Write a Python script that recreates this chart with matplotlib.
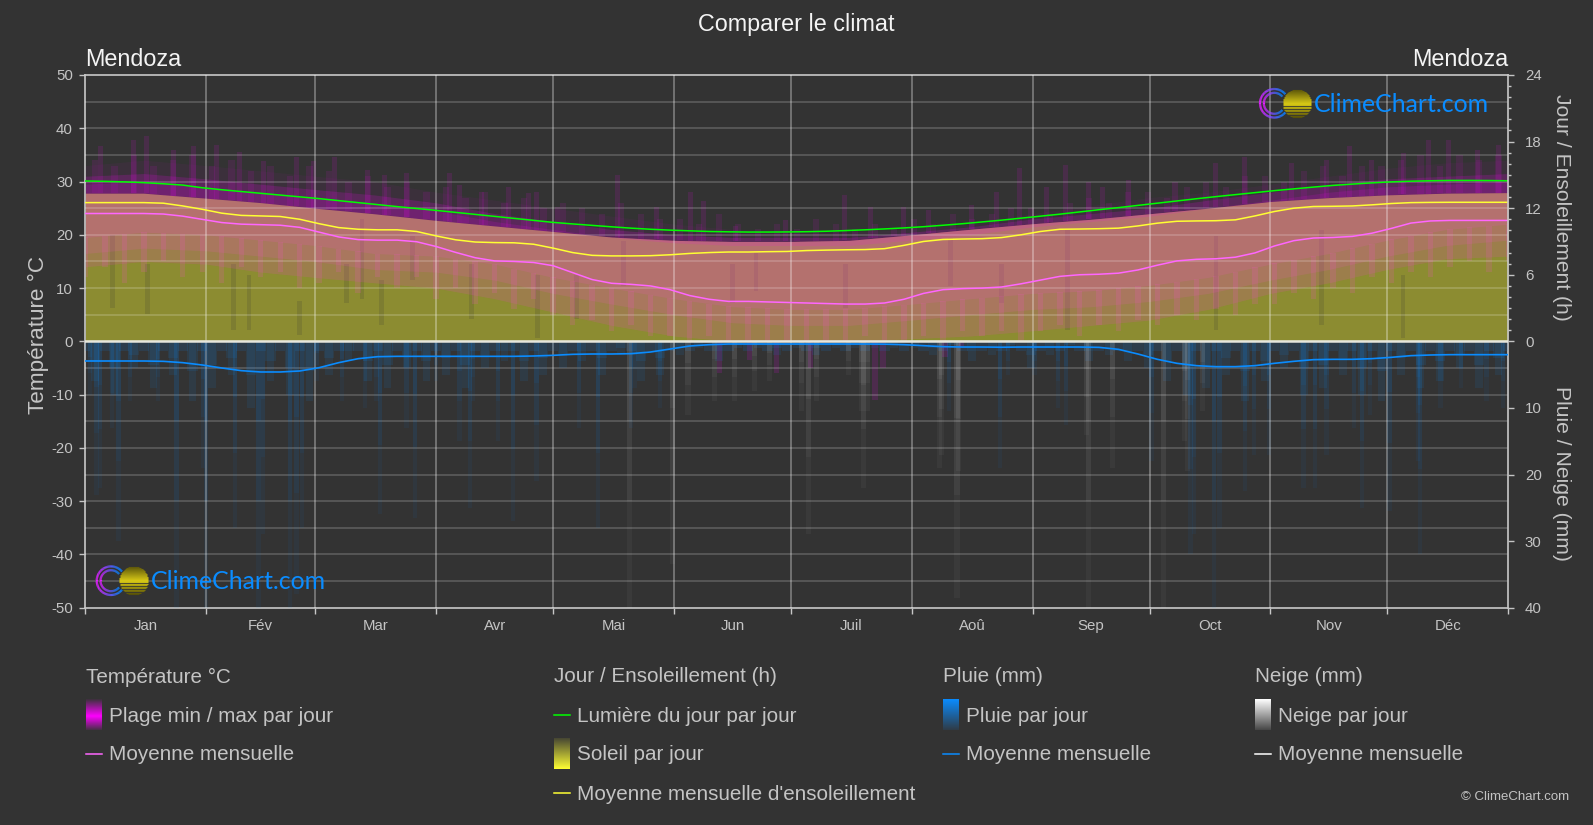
import numpy as np
import matplotlib
matplotlib.use("Agg")
import matplotlib.pyplot as plt
from matplotlib.collections import LineCollection

plt.rcParams['font.family'] = ['Liberation Sans', 'DejaVu Sans']
plt.rcParams['axes.unicode_minus'] = False

W, H = 1593, 825
BG = '#333333'
TXT = '#c4c4c4'
PINK = '#f94fd0'

months = ['Jan', 'Fév', 'Mar', 'Avr', 'Mai', 'Jun', 'Juil', 'Aoû', 'Sep', 'Oct', 'Nov', 'Déc']
month_edges = [0, 31, 59, 90, 120, 151, 181, 212, 243, 273, 304, 334, 365]

# monthly curves, read every 5 days
line_days = np.arange(0, 366, 5)
temp_mean = [24, 24, 24, 24, 23.9, 23.5, 22.9, 22.3, 22, 21.9, 21.8, 21.4, 20.5, 19.6, 19.1, 19, 19, 18.7, 17.8,
             16.7, 15.7, 15.1, 15, 14.8, 14.2, 12.9, 11.6, 10.9, 10.7, 10.4, 9.7, 8.6, 7.9, 7.5, 7.5, 7.4, 7.3,
             7.2, 7.1, 7, 7, 7.2, 7.9, 9, 9.7, 9.9, 10, 10.2, 10.8, 11.5, 12.2, 12.5, 12.6, 12.8, 13.4, 14.3,
             15.1, 15.4, 15.5, 15.8, 16.6, 17.9, 18.9, 19.4, 19.5, 19.7, 20.3, 21.2, 22.2, 22.6, 22.7, 22.7, 22.7, 22.7]
sun_mean = [12.5, 12.5, 12.5, 12.5, 12.45, 12.2, 11.9, 11.55, 11.35, 11.3, 11.25, 11.0, 10.6, 10.25, 10.1, 10.05,
            10.05, 9.9, 9.5, 9.15, 8.95, 8.9, 8.88, 8.75, 8.4, 8.0, 7.75, 7.7, 7.7, 7.72, 7.8, 7.92, 8.0, 8.05,
            8.05, 8.08, 8.1, 8.18, 8.22, 8.25, 8.27, 8.35, 8.65, 9.0, 9.18, 9.22, 9.25, 9.35, 9.6, 9.9, 10.1,
            10.12, 10.15, 10.2, 10.4, 10.65, 10.82, 10.85, 10.87, 10.95, 11.3, 11.7, 12.0, 12.15, 12.17, 12.2,
            12.3, 12.42, 12.5, 12.52, 12.53, 12.53, 12.53, 12.53]
daylight = [14.45, 14.42, 14.37, 14.3, 14.2, 14.08, 13.84, 13.66, 13.5, 13.34, 13.18, 13.02, 12.86, 12.68, 12.5,
            12.32, 12.14, 11.97, 11.8, 11.62, 11.44, 11.26, 11.08, 10.9, 10.72, 10.58, 10.45, 10.32, 10.2, 10.1,
            10.02, 9.96, 9.9, 9.87, 9.85, 9.85, 9.86, 9.88, 9.92, 9.98, 10.05, 10.13, 10.22, 10.33, 10.46, 10.6,
            10.76, 10.92, 11.1, 11.28, 11.46, 11.66, 11.86, 12.05, 12.25, 12.45, 12.65, 12.85, 13.04, 13.22, 13.4,
            13.58, 13.74, 13.9, 14.05, 14.17, 14.28, 14.37, 14.43, 14.47, 14.5, 14.5, 14.49, 14.47]
rain_mean = [2.95, 2.95, 2.95, 2.95, 3.0, 3.2, 3.55, 4.0, 4.4, 4.6, 4.6, 4.45, 3.95, 3.2, 2.6, 2.3, 2.25, 2.25, 2.25,
             2.25, 2.25, 2.25, 2.25, 2.2, 2.1, 1.95, 1.9, 1.9, 1.85, 1.6, 1.15, 0.7, 0.5, 0.4, 0.4, 0.4, 0.4, 0.4,
             0.4, 0.4, 0.4, 0.42, 0.5, 0.65, 0.8, 0.85, 0.85, 0.88, 0.85, 0.85, 0.85, 0.85, 0.9, 1.2, 1.9, 2.7,
             3.3, 3.65, 3.8, 3.8, 3.65, 3.3, 3.0, 2.75, 2.7, 2.7, 2.6, 2.4, 2.15, 2.05, 2.0, 2.0, 2.0, 2.0]
snow_mean = [0] * 13

# envelopes of the daily values, start and middle of each month
env_days = [0, 15, 31, 45, 59, 74, 90, 105, 120, 135, 151, 166, 181, 196, 212, 227, 243, 258, 273, 288, 304, 319,
            334, 349, 365]
t_peak = [33, 34, 33, 32, 31, 30, 28, 26.5, 25, 23.5, 22, 21, 20.5, 20.5, 21, 22, 24, 25.5, 27, 28, 29.5, 31, 32.5,
          33.5, 34]
t_high = [31, 31.5, 30.5, 29.5, 28.5, 27.5, 26, 24, 22.5, 21, 20, 19.5, 19.5, 19.5, 20.5, 21.5, 23, 24, 25, 26.5, 28,
          29.5, 30.5, 31, 31.5]
t_low = [16.5, 17.5, 17, 16, 15, 13.5, 13, 11.5, 9, 7, 5, 3.5, 3, 3, 4, 5, 6, 6.5, 7.5, 9, 11.5, 13.5, 16, 18, 19]
t_floor = [14, 15, 14.5, 13, 12, 11, 10, 8, 5.5, 3, 1, 0, 0, 0, 0.5, 1, 2, 3, 4, 6, 9, 11, 13.5, 15.5, 16]
sun_top = [13.35, 13.35, 12.9, 12.5, 12, 11.5, 10.9, 10.4, 9.9, 9.4, 9.1, 9, 9, 9.1, 9.6, 10.1, 10.6, 11, 11.5, 12,
           12.6, 12.95, 13.2, 13.35, 13.4]

# 5-day texture of the daily bars
t_low_jag = [12, 14, 11, 13, 15, 12, 13, 11, 14, 12, 13, 10, 11, 13, 9, 12, 10, 12, 8, 10, 7, 9, 6, 8, 5, 3, 4, 2,
             3, 1, 1, 0, 1, 0, 0, 0, 0, 0, 0, 0, 1, 0, 0, 1, 0, 2, 1, 2, 0, 2, 3, 1, 3, 2, 4, 3, 5, 4, 6, 5, 7, 7, 9,
             8, 10, 9, 12, 11, 13, 12, 14, 15, 13, 15]
hot_tops_2 = [34, 33, 35, 33, 34, 35, 33, 34, 32, 33, 31, 33, 32, 30, 31, 29, 30, 28, 29, 27, 28, 26, 27, 25, 26, 25,
              24, 26, 24, 23, 23, 22, 24, 22, 21, 22, 21, 23, 22, 21, 22, 21, 23, 22, 24, 23, 24, 25, 25, 24, 26, 27,
              26, 28, 28, 27, 29, 30, 29, 31, 31, 30, 32, 33, 31, 33, 33, 34, 35, 33, 35, 34, 35]
rain_short = [6, 8, 4, 7, 5, 9, 7, 5, 10, 6, 8, 9, 5, 3, 6, 7, 4, 6, 5, 7, 4, 3, 6, 5, 4, 3, 5, 2, 6, 5, 2, 1, 3, 1,
              1, 2, 1, 2, 1, 1, 1, 1, 1, 2, 1, 3, 2, 1, 4, 2, 1, 3, 2, 3, 4, 6, 8, 7, 5, 9, 6, 4, 8, 7, 5, 8, 9, 5, 7,
              6, 4, 7, 5]

# days that stand out
hot_days = [3.8, 12.3, 15.7, 22.6, 27.7, 33.7, 39.6, 45.7, 54.2, 58.5, 64, 72.5, 76.8, 82.4, 93.5, 96, 101.6, 108.5,
            113.6, 115.7, 121, 136.5, 146.6, 155.3, 158.5, 166.8, 179.6, 194.7, 201.5, 209.8, 216.2, 227.2, 233.7,
            239.6, 246.5, 251.5, 257.4, 261, 267.5, 279.5, 290, 297.4, 309.3, 318.3, 324.3, 329.9, 338, 344.5,
            349.7, 357, 362.5]
hot_tops = [36.6, 37.8, 38.6, 36, 36.6, 36.9, 35.6, 33.8, 34.7, 33.8, 34.6, 32.2, 31.3, 31.6, 31.6, 29.4, 28.1, 29,
            27.8, 28, 25.3, 31.3, 25.3, 28.1, 26.3, 21.6, 22.8, 27.5, 25.3, 25.3, 24.7, 25.6, 28.1, 32.5, 29, 33.1,
            30, 29, 30.3, 30, 33.4, 34.7, 33.4, 34, 36.6, 34, 35.3, 37.8, 37.8, 36, 36.9]
cold_days = [162.7, 170.4, 177.3, 186, 202.5, 204.6, 220.5, 224.7]
cold_lows = [-6, -3.5, -6, -5, -11, -5, -3, -1]
cloud_days = [7, 16, 38, 42, 55, 67, 71, 76, 84, 99, 116, 126, 138, 166, 172, 195, 222, 235, 252, 290, 317, 338]
cloud_tops = [9.6, 7, 7, 6, 3.6, 7, 11, 5.5, 9.5, 7, 6, 6, 9, 7, 8, 7, 9.3, 7, 10, 9.5, 10, 6]
cloud_bottoms = [3, 2.5, 1, 1, 0.6, 3.5, 3.8, 1.5, 5.5, 2, 0.3, 2, 5, 3.5, 4.5, 3, 5, 3.5, 1, 1, 1.5, 0.3]
rain_days = [1.2, 2.9, 3.7, 6.8, 8.5, 11.5, 18.7, 23.4, 30.2, 31, 38.4, 44.4, 45.6, 52.5, 54.2, 55.5, 59.3, 65.8,
             71.7, 74.7, 75.5, 82.4, 84.5, 90, 96, 98.6, 99.5, 105.9, 109.7, 115.7, 126.7, 131.5, 140, 140.9, 147.4,
             221.6, 234.6, 236.7, 243.5, 249.5, 251.5, 273.5, 283.5, 284.4, 289.6, 290.9, 297.5, 299.7, 303.6,
             312.5, 315.5, 318.4, 325.4, 327.4, 329.5, 334.5, 341.9, 342.3, 347.6, 352.9, 359.4, 363.7]
rain_depths = [8, 23, 22, 13, 30, 9, 9, 40, 19, 40, 28, 40, 29, 40, 38, 28, 6, 9, 10, 9, 26, 13, 26.5, 6, 15, 25, 9,
               15, 27, 21, 13, 28, 13, 7, 10, 10.5, 19, 5, 5, 10, 12.5, 18, 32, 29, 40, 28, 22.5, 17, 17, 22, 22, 17,
               13, 25, 11, 25.5, 18, 32, 10, 7, 9, 10]
snow_days = [139.7, 150.6, 154.6, 161.5, 166.6, 171.7, 175.6, 183.7, 185.6, 187.5, 195.7, 199, 199.7, 200.5, 219,
             219.6, 223.6, 224, 256.9, 257.3, 263.4, 276.5, 282, 282.6, 286.5]
snow_depths = [40, 33.5, 11, 9, 9, 7.5, 6, 10.5, 29, 9, 5, 10.5, 22, 10.5, 19, 17, 38.5, 19.5, 14, 40, 19, 40, 15,
               19.5, 10.5]

fig = plt.figure(figsize=(W / 100, H / 100), dpi=100, facecolor=BG)
rect = [85.3 / W, 1 - 607.7 / H, (1508.3 - 85.3) / W, (607.7 - 75) / H]


def make_axes(z, ylim):
    a = fig.add_axes(rect, zorder=z)
    a.set_xlim(0, 365)
    a.set_ylim(*ylim)
    a.patch.set_visible(False)
    a.set_xticks([])
    a.set_yticks([])
    for s in a.spines.values():
        s.set_visible(False)
    return a


ax_sunfill = make_axes(1, (-24, 24))
ax = make_axes(2, (-50, 50))
ax_sun = make_axes(3, (-24, 24))
ax_rain = make_axes(4, (40, -40))

# sunshine
ax_sunfill.fill_between(env_days, 0, sun_top, color='#ffff30', alpha=0.44, lw=0)
ax_sunfill.bar(cloud_days, np.array(cloud_tops) - np.array(cloud_bottoms), bottom=cloud_bottoms, width=1.2,
               color='#333333', alpha=0.16, lw=0)

# temperature range, pink where it lies on the sun and purple above it
sun_top_c = np.array(sun_top) * 50 / 24
ax.fill_between(env_days, t_floor, t_peak, color='#ff00ff', alpha=0.045, lw=0)
ax.fill_between(env_days, t_floor, sun_top_c, color=PINK, alpha=0.12, lw=0)
ax.fill_between(env_days, t_low, sun_top_c, color=PINK, alpha=0.15, lw=0)
ax.fill_between(env_days, np.array(t_low) + 3, sun_top_c, color=PINK, alpha=0.15, lw=0)
ax.fill_between(env_days, sun_top_c, t_high, color='#ff00ff', alpha=0.16, lw=0)
ax.fill_between(env_days, sun_top_c, np.array(t_high) - 1.5, color='#ff00ff', alpha=0.13, lw=0)
jag_bottom = np.array(t_low_jag, dtype=float)
jag_top = np.interp(line_days, env_days, t_low) + 3
ax.bar(line_days, jag_top - jag_bottom, bottom=jag_bottom, width=1.4, color=PINK, alpha=0.17, lw=0)
hot_base = np.interp(hot_days, env_days, sun_top_c)
ax.bar(hot_days, np.array(hot_tops) - hot_base, bottom=hot_base, width=1.3, color='#ff00ff', alpha=0.11, lw=0)
hot_days_2 = np.arange(2.5, 365, 5)
hot_base_2 = np.interp(hot_days_2, env_days, sun_top_c)
ax.bar(hot_days_2, np.array(hot_tops_2) - hot_base_2, bottom=hot_base_2, width=1.6, color='#ff00ff', alpha=0.09, lw=0)
ax.bar(cold_days, cold_lows, width=1.4, color='#ff00ff', alpha=0.13, lw=0)

# rain and snow, each bar fades away from the zero line
ax_rain.bar(hot_days_2, rain_short, width=2, color='#0a8cff', alpha=0.09, lw=0)
ax_rain.bar(hot_days_2, np.array(rain_short) * 0.5, width=2.6, color='#0a8cff', alpha=0.1, lw=0)
ax_rain.bar(line_days, 1.5, width=2.6, color='#0a8cff', alpha=0.12, lw=0)
for frac, alpha in [(1.0, 0.055), (0.6, 0.055), (0.3, 0.07)]:
    ax_rain.bar(rain_days, np.array(rain_depths) * frac, width=1.1, color='#0a8cff', alpha=alpha, lw=0)
    ax_rain.bar(snow_days, np.array(snow_depths) * frac, width=1.3, color='#ffffff', alpha=alpha * 0.7, lw=0)

# grid
for v in range(-45, 50, 5):
    ax.axhline(v, color='#ffffff', alpha=0.2, lw=1.2, zorder=5)
for d in month_edges[1:-1]:
    ax.axvline(d, color='#ffffff', alpha=0.36, lw=1.2, zorder=5)

# curves
ax.plot(line_days, temp_mean, color='#ff66ff', lw=1.1, zorder=6)
ax_sun.plot(line_days, daylight, color='#00ff00', lw=1.1)
ax_sun.plot(line_days, sun_mean, color='#ffff33', lw=1.1)
ax_rain.plot(line_days, rain_mean, color='#0a8cff', lw=1.2, zorder=6)
ax_rain.plot(month_edges, snow_mean, color='#e6e6dc', lw=1.8, zorder=5)

# left axis
for k in ('left', 'top', 'bottom'):
    ax.spines[k].set_visible(True)
    ax.spines[k].set_color('#c8c8c8')
    ax.spines[k].set_linewidth(1.2)
ax.set_yticks(range(-50, 51, 10))
ax.tick_params(axis='y', colors=TXT, labelsize=10.8, length=4, width=1, pad=5)
ax.set_xticks(month_edges)
ax.set_xticklabels([])
ax.tick_params(axis='x', colors='#c8c8c8', length=4, width=1)
ax.set_xticks([(a + b) / 2 for a, b in zip(month_edges[:-1], month_edges[1:])], minor=True)
ax.set_xticklabels(months, minor=True)
ax.tick_params(axis='x', which='minor', length=0, labelsize=10.8, labelcolor=TXT, pad=8)

# right axes
ax_sun.spines['right'].set_visible(True)
ax_sun.spines['right'].set_color('#c8c8c8')
ax_sun.spines['right'].set_linewidth(1.2)
ax_sun.yaxis.tick_right()
ax_sun.set_yticks([0, 6, 12, 18, 24])
ax_sun.set_yticks(range(1, 24), minor=True)
ax_sun.tick_params(axis='y', which='major', colors=TXT, labelsize=10.8, length=4, width=1, pad=8)
ax_sun.tick_params(axis='y', which='minor', colors='#c8c8c8', length=2.5, width=1)
ax_rain.yaxis.tick_right()
ax_rain.set_yticks([10, 20, 30, 40])
ax_rain.tick_params(axis='y', colors=TXT, labelsize=10.8, length=4, width=1, pad=8)

# everything outside the plot, in pixels
ov = fig.add_axes([0, 0, 1, 1], zorder=10)
ov.set_xlim(0, W)
ov.set_ylim(H, 0)
ov.axis('off')


def txt(x, y, s, size=14.85, color=TXT, **kw):
    kw.setdefault('va', 'center')
    ov.text(x, y, s, fontsize=size, color=color, **kw)


txt(796, 24, 'Comparer le climat', size=16.8, color='#f4f4f4', ha='center')
txt(85.5, 60, 'Mendoza', size=16.8, color='#f4f4f4')
txt(1508, 60, 'Mendoza', size=16.8, color='#f4f4f4', ha='right')
txt(38, 335, 'Température °C', size=16.2, ha='center', rotation=90)
txt(1561, 207, 'Jour / Ensoleillement (h)', size=15.1, ha='center', rotation=270)
txt(1561, 473, 'Pluie / Neige (mm)', size=15.2, ha='center', rotation=270)
txt(1569, 797, '© ClimeChart.com', size=9.5, ha='right')


def gradient_swatch(x, y0, y1, stops):
    # stops are (position, r, g, b, a) from top to bottom
    pos = np.linspace(0, 1, 64)
    stops = np.array(stops, dtype=float)
    img = np.stack([np.interp(pos, stops[:, 0], stops[:, i]) for i in range(1, 5)], axis=1)[:, None, :]
    ov.imshow(img, extent=(x, x + 16, y1, y0), aspect='auto', zorder=2, interpolation='bilinear')


cols = [85.5, 553.5, 943, 1255]
txt(cols[0], 677, 'Température °C')
gradient_swatch(cols[0], 699, 730, [(0, 1, 0, 1, 0.05), (0.55, 1, 0, 1, 1), (1, 1, 0, 1, 0.1)])
txt(cols[0] + 23.5, 716, 'Plage min / max par jour')
ov.plot([cols[0], cols[0] + 16], [754, 754], color='#ff66ff', lw=1.1)
txt(cols[0] + 23.5, 755, 'Moyenne mensuelle')

txt(cols[1], 677, 'Jour / Ensoleillement (h)')
ov.plot([cols[1], cols[1] + 16], [715, 715], color='#00ff00', lw=1.1)
txt(cols[1] + 23.5, 716, 'Lumière du jour par jour')
gradient_swatch(cols[1], 738, 769, [(0, 1, 1, 0.2, 0.1), (1, 1, 1, 0.2, 1)])
txt(cols[1] + 23.5, 755, 'Soleil par jour')
ov.plot([cols[1], cols[1] + 16], [793, 793], color='#ffff33', lw=1.1)
txt(cols[1] + 23.5, 794, "Moyenne mensuelle d'ensoleillement")

txt(cols[2], 677, 'Pluie (mm)')
gradient_swatch(cols[2], 699, 730, [(0, 0.04, 0.55, 1, 1), (1, 0.04, 0.55, 1, 0.1)])
txt(cols[2] + 23.5, 716, 'Pluie par jour')
ov.plot([cols[2], cols[2] + 16], [754, 754], color='#0a8cff', lw=1.1)
txt(cols[2] + 23.5, 755, 'Moyenne mensuelle')

txt(cols[3], 677, 'Neige (mm)')
gradient_swatch(cols[3], 699, 730, [(0, 1, 1, 1, 1), (1, 1, 1, 1, 0.1)])
txt(cols[3] + 23.5, 716, 'Neige par jour')
ov.plot([cols[3], cols[3] + 16], [754, 754], color='#ffffff', lw=1.1)
txt(cols[3] + 23.5, 755, 'Moyenne mensuelle')


def logo(cx, cy, tx):
    # two rings, magenta on the left going blue
    for r, lw in [(14.3, 1.6), (10.5, 1.6)]:
        th = np.radians(np.linspace(40, 320, 80))
        px, py = cx + r * np.cos(th), cy - r * np.sin(th)
        segs = [[(px[i], py[i]), (px[i + 1], py[i + 1])] for i in range(len(px) - 1)]
        f = np.clip((px[:-1] - (cx - r)) / (1.6 * r), 0, 1)
        colors = np.stack([0.88 * (1 - f) + 0.05 * f, 0.12 * (1 - f) + 0.5 * f, np.ones_like(f)], axis=1)
        ov.add_collection(LineCollection(segs, colors=colors, linewidths=lw))
    # sun, stripes on the lower half and fading at both ends
    sx = cx + 22.7
    R = 14.5
    for dy in np.arange(-R, R, 1.0):
        half = np.sqrt(max(R * R - dy * dy, 0))
        if dy < 0:
            shade = 0.35 + 0.5 * (dy + R) / R
            a = 1
        else:
            shade = 0.85 - 0.55 * dy / R
            a = 1 if int(dy) % 3 != 2 else 0.1
        ov.plot([sx - half, sx + half], [cy + dy, cy + dy], color=(shade, shade * 0.93, 0.1 * shade), alpha=a,
                lw=0.8, solid_capstyle='butt')
    ov.text(tx, cy + 1, 'ClimeChart.com', fontsize=17.9, color='#0a8cff', family=['Lato', 'DejaVu Sans'], va='center')


logo(1274.3, 103.3, 1313.5)
logo(111, 580.7, 151)

fig.savefig('out.png', dpi=100, facecolor=BG)
